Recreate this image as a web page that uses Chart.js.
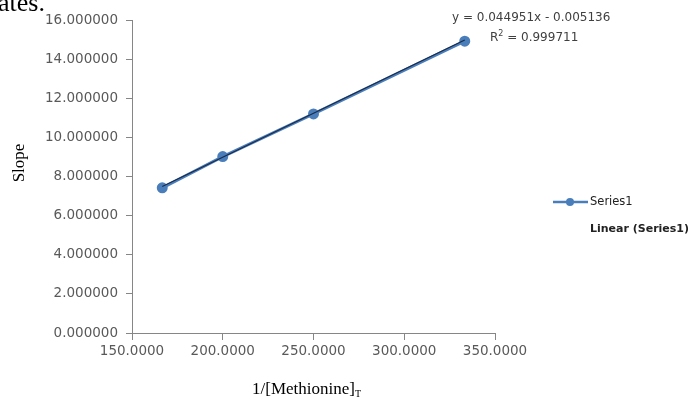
<!DOCTYPE html>
<html>
<head>
<meta charset="utf-8">
<script src="https://cdn.jsdelivr.net/npm/chart.js@4.4.0/dist/chart.umd.min.js"></script>
<style>
  html, body { margin: 0; padding: 0; background: #fff; }
  #wrap { width: 688px; height: 405px; position: relative; }
</style>
</head>
<body>
<div id="wrap"><canvas id="miGrafica" width="688" height="405"></canvas></div>
<script>
// datos
var xValues = [166.6667, 200.0000, 250.0000, 333.3333];
var slopeValues = [7.42, 9.02, 11.2, 14.92];
var trendSlope = 0.044951;
var trendIntercept = -0.005136;
var r2 = 0.999711;
var xTicks = [150, 200, 250, 300, 350];
var yTicks = [0, 2, 4, 6, 8, 10, 12, 14, 16];

var seriesPoints = xValues.map(function(x, i) { return { x: x, y: slopeValues[i] }; });
var trendPoints = [xValues[0], xValues[xValues.length - 1]].map(function(x) {
    return { x: x, y: trendSlope * x + trendIntercept };
});

// textos sueltos: titulos, ecuacion, leyenda
var extraText = {
    id: "extraText",
    afterDraw: function(chart) {
        var c = chart.ctx;
        c.save();
        c.fillStyle = "#000";
        c.font = "26px 'Liberation Serif'";
        c.textBaseline = "alphabetic";
        c.fillText("ates.", -2, 11);

        // titulo eje y
        c.translate(20, 163);
        c.rotate(-Math.PI / 2);
        c.font = "17px 'Liberation Serif'";
        c.textAlign = "center";
        c.textBaseline = "middle";
        c.fillText("Slope", 0, 0);
        c.restore();

        c.save();
        c.fillStyle = "#000";
        c.font = "17px 'Liberation Serif'";
        c.textBaseline = "alphabetic";
        c.fillText("1/[Methionine]", 252, 394);
        var w = c.measureText("1/[Methionine]").width;
        c.font = "10px 'Liberation Serif'";
        c.fillText("T", 252 + w, 397);

        // ecuacion de la tendencia
        c.fillStyle = "#404040";
        c.font = "12px 'DejaVu Sans'";
        c.textAlign = "left";
        c.textBaseline = "middle";
        c.fillText("y = " + trendSlope.toFixed(6) + "x - " + Math.abs(trendIntercept).toFixed(6), 452, 18);
        c.fillText("R", 490, 38);
        var rw = c.measureText("R").width;
        c.font = "8px 'DejaVu Sans'";
        c.fillText("2", 490 + rw, 34);
        c.font = "12px 'DejaVu Sans'";
        c.fillText(" = " + r2.toFixed(6), 490 + rw + 5, 38);

        // leyenda
        c.strokeStyle = "#4A7EBB";
        c.lineWidth = 2.5;
        c.beginPath();
        c.moveTo(553, 202);
        c.lineTo(588, 202);
        c.stroke();
        c.fillStyle = "#4A7EBB";
        c.beginPath();
        c.arc(570, 202, 4, 0, Math.PI * 2);
        c.fill();
        c.fillStyle = "#222";
        c.font = "11.5px 'DejaVu Sans'";
        c.fillText("Series1", 590, 202);
        c.font = "bold 11px 'DejaVu Sans'";
        c.fillText("Linear (Series1)", 590, 229);
        c.restore();
    }
};

document.addEventListener("DOMContentLoaded", function() {
    var ctx = document.getElementById("miGrafica").getContext("2d");

    var data = {
        datasets: [{
            label: "Linear (Series1)",
            data: trendPoints,
            borderColor: "#1B2A48",
            borderWidth: 1.2,
            pointRadius: 0,
            showLine: true,
            order: 0
        }, {
            label: "Series1",
            data: seriesPoints,
            borderColor: "#4A7EBB",
            backgroundColor: "#4A7EBB",
            borderWidth: 3,
            pointRadius: 4,
            pointBackgroundColor: "#4A7EBB",
            pointBorderColor: "#4A7EBB",
            showLine: true,
            order: 1
        }]
    };

    var tickFont = { family: "'DejaVu Sans'", size: 13.5 };

    var options = {
        responsive: false,
        animation: false,
        layout: { padding: { left: 0, right: 193, top: 20, bottom: 40 } },
        plugins: { legend: { display: false }, tooltip: { enabled: false } },
        scales: {
            x: {
                type: "linear",
                min: 150,
                max: 350,
                afterBuildTicks: function(axis) { axis.ticks = xTicks.map(function(v) { return { value: v }; }); },
                afterFit: function(axis) { axis.height = 32; },
                border: { display: true, color: "#868686", width: 1 },
                grid: { display: true, drawOnChartArea: false, drawTicks: true, tickLength: 7, color: "#868686" },
                ticks: {
                    color: "#595959",
                    font: tickFont,
                    padding: 3,
                    maxRotation: 0,
                    callback: function(v) { return Number(v).toFixed(4); }
                }
            },
            y: {
                min: 0,
                max: 16,
                afterBuildTicks: function(axis) { axis.ticks = yTicks.map(function(v) { return { value: v }; }); },
                afterFit: function(axis) { axis.width = 132; },
                border: { display: true, color: "#868686", width: 1 },
                grid: { display: true, drawOnChartArea: false, drawTicks: true, tickLength: 6, color: "#868686" },
                ticks: {
                    color: "#595959",
                    font: tickFont,
                    padding: 8,
                    callback: function(v) { return Number(v).toFixed(6); }
                }
            }
        }
    };

    var myChart = new Chart(ctx, {
        type: "scatter",
        data: data,
        options: options,
        plugins: [extraText]
    });
});
</script>
</body>
</html>
